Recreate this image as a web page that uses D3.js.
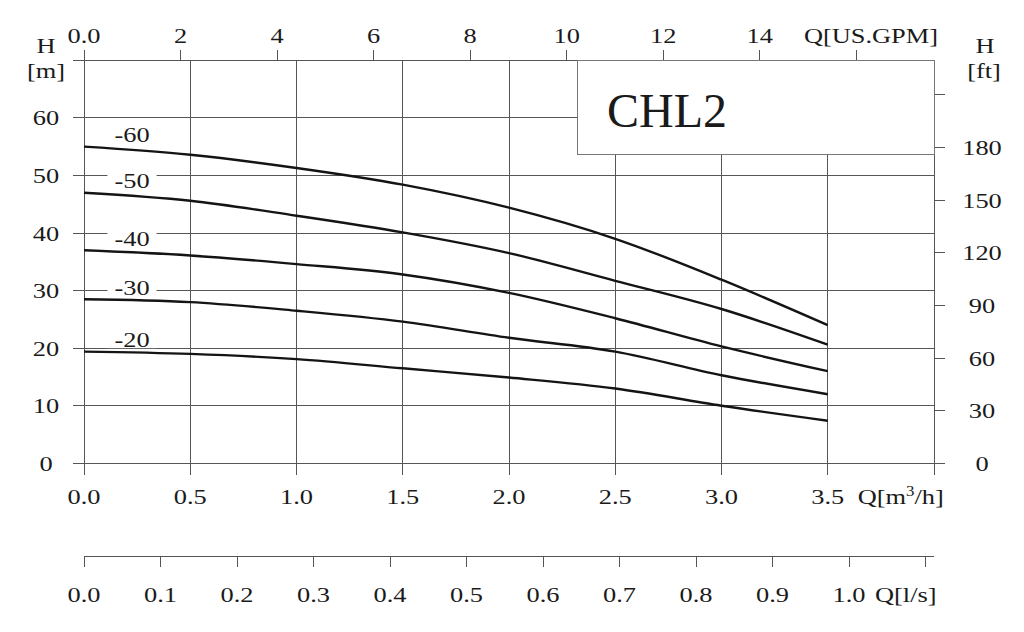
<!DOCTYPE html>
<html>
<head>
<meta charset="utf-8">
<script src="https://cdn.jsdelivr.net/npm/d3@7"></script>
<style>
  html, body { margin: 0; padding: 0; background: #fff; }
  svg { display: block; }
  text { font-family: "Liberation Serif", "Times New Roman", serif; fill: #1a1a1a; }
</style>
</head>
<body>
<svg id="chart" width="1024" height="632"></svg>
<script>
// ---- data ----
const flowQ = [0, 0.5, 1.0, 1.5, 2.0, 2.5, 3.0, 3.5];           // m3/h
const seriesNames = ["-60", "-50", "-40", "-30", "-20"];
const head60 = [55.0, 53.6, 51.3, 48.4, 44.4, 39.0, 31.9, 24.0];
const head50 = [47.0, 45.6, 43.0, 40.1, 36.5, 31.7, 26.8, 20.6];
const head40 = [37.0, 36.1, 34.6, 32.8, 29.6, 25.2, 20.3, 16.0];
const head30 = [28.5, 28.0, 26.5, 24.6, 21.8, 19.4, 15.3, 12.0];
const head20 = [19.4, 19.0, 18.1, 16.5, 14.9, 13.0, 10.0, 7.4];
const seriesHeads = [head60, head50, head40, head30, head20];

const m3hTicks = [0, 0.5, 1.0, 1.5, 2.0, 2.5, 3.0, 3.5, 4.0];
const m3hLabels = ["0.0", "0.5", "1.0", "1.5", "2.0", "2.5", "3.0", "3.5"];
const gpmTicks = [0, 2, 4, 6, 8, 10, 12, 14, 16];
const gpmLabels = ["0.0", "2", "4", "6", "8", "10", "12", "14"];
const lsTicks = [0, 0.1, 0.2, 0.3, 0.4, 0.5, 0.6, 0.7, 0.8, 0.9, 1.0, 1.1];
const lsLabels = ["0.0", "0.1", "0.2", "0.3", "0.4", "0.5", "0.6", "0.7", "0.8", "0.9", "1.0"];
const mTicks = [0, 10, 20, 30, 40, 50, 60, 70];
const mLabels = ["0", "10", "20", "30", "40", "50", "60"];
const ftTicks = [0, 30, 60, 90, 120, 150, 180, 210];
const ftLabels = ["0", "30", "60", "90", "120", "150", "180"];
const title = "CHL2";

// ---- layout ----
const L = 84, R = 934, T = 60.3, B = 463.3;
const svg = d3.select("#chart");
const x = d3.scaleLinear().domain([0, 4]).range([L, R]);
const y = d3.scaleLinear().domain([0, 70]).range([B, T]);
const xGpm = d3.scaleLinear().domain([0, 4 / 0.2271247]).range([L, R]);
const xLs = d3.scaleLinear().domain([0, 4 / 3.6]).range([L, R]);
const yFt = d3.scaleLinear().domain([0, 70 / 0.3048]).range([B, T]);

const GRID = "#555", FS = 22, SX = 1.2;

function label(g, str, px, py, anchor, size) {
  const t = g.append("text")
    .attr("transform", `translate(${px},${py}) scale(${SX},1)`)
    .attr("text-anchor", anchor || "middle")
    .style("font-size", (size || FS) + "px");
  return t.text(str);
}

const grid = svg.append("g").attr("stroke", GRID).attr("stroke-width", 1).attr("shape-rendering", "crispEdges");

// horizontal gridlines (with left tick extension)
grid.selectAll("line.h").data(mTicks).join("line")
  .attr("x1", 73).attr("x2", d => d === 0 ? 945 : R)
  .attr("y1", d => y(d)).attr("y2", d => y(d));
// vertical gridlines (with bottom tick extension)
grid.selectAll("line.v").data(m3hTicks).join("line")
  .attr("x1", d => x(d)).attr("x2", d => x(d))
  .attr("y1", T).attr("y2", 475);
// right ft ticks
grid.selectAll("line.ft").data(ftTicks).join("line")
  .attr("x1", R).attr("x2", 945)
  .attr("y1", d => yFt(d)).attr("y2", d => yFt(d));
// top GPM ticks
grid.selectAll("line.gpm").data(gpmTicks).join("line")
  .attr("x1", d => xGpm(d)).attr("x2", d => xGpm(d))
  .attr("y1", 50).attr("y2", T);
// l/s axis
const lsY = 556;
grid.append("line").attr("x1", xLs(0)).attr("x2", R).attr("y1", lsY).attr("y2", lsY);
grid.selectAll("line.ls").data(lsTicks).join("line")
  .attr("x1", d => xLs(d)).attr("x2", d => xLs(d))
  .attr("y1", lsY).attr("y2", lsY + 11);

// title box
svg.append("rect").attr("x", 577).attr("y", T).attr("width", R - 577).attr("height", 154.5 - T)
  .attr("fill", "#fff").attr("stroke", "#777").attr("stroke-width", 1).attr("shape-rendering", "crispEdges");
svg.append("text").attr("x", 607).attr("y", 127).style("font-size", "48px").text(title);

// series labels with white backgrounds
const lblG = svg.append("g");
const lblX = L + 48;
const labelNodes = seriesNames.map((n, i) => label(lblG, n, lblX, y(seriesHeads[i][0]) - 4.5, "middle"));
labelNodes.forEach((t, i) => {
  const bb = t.node().getBBox();
  const w = bb.width * SX;
  const cy = y(seriesHeads[i][0]) - 4.5;
  lblG.insert("rect", "text")
    .attr("x", lblX - w / 2 - 7).attr("y", cy - 15)
    .attr("width", w + 14).attr("height", 16)
    .attr("fill", "#fff");
});

// curves
const line = d3.line().x((d, i) => x(flowQ[i])).y(d => y(d)).curve(d3.curveMonotoneX);
svg.append("g").selectAll("path").data(seriesHeads).join("path")
  .attr("d", line).attr("fill", "none").attr("stroke", "#141414").attr("stroke-width", 2.4)
  .attr("stroke-linejoin", "round");

lblG.raise();

// axis labels
const txt = svg.append("g");
mLabels.forEach((s, i) => label(txt, s, 46, y(mTicks[i]) + 7.5));
ftLabels.forEach((s, i) => label(txt, s, 982, yFt(ftTicks[i]) + 7.5));
m3hLabels.forEach((s, i) => label(txt, s, x(m3hTicks[i]), 504));
gpmLabels.forEach((s, i) => label(txt, s, xGpm(gpmTicks[i]), 43));
lsLabels.forEach((s, i) => label(txt, s, xLs(lsTicks[i]), 601.5));

label(txt, "H", 46, 53);
label(txt, "[m]", 46, 78);
label(txt, "H", 985, 53);
label(txt, "[ft]", 984, 78);
label(txt, "Q[US.GPM]", 938, 43, "end");
const qm = label(txt, "Q[m", x(3.5) + 30, 504, "start");
qm.append("tspan").attr("dy", -8).style("font-size", "14px").text("3");
qm.append("tspan").attr("dy", 8).text("/h]");
label(txt, "Q[l/s]", xLs(1.0) + 26, 601.5, "start");
</script>
</body>
</html>
